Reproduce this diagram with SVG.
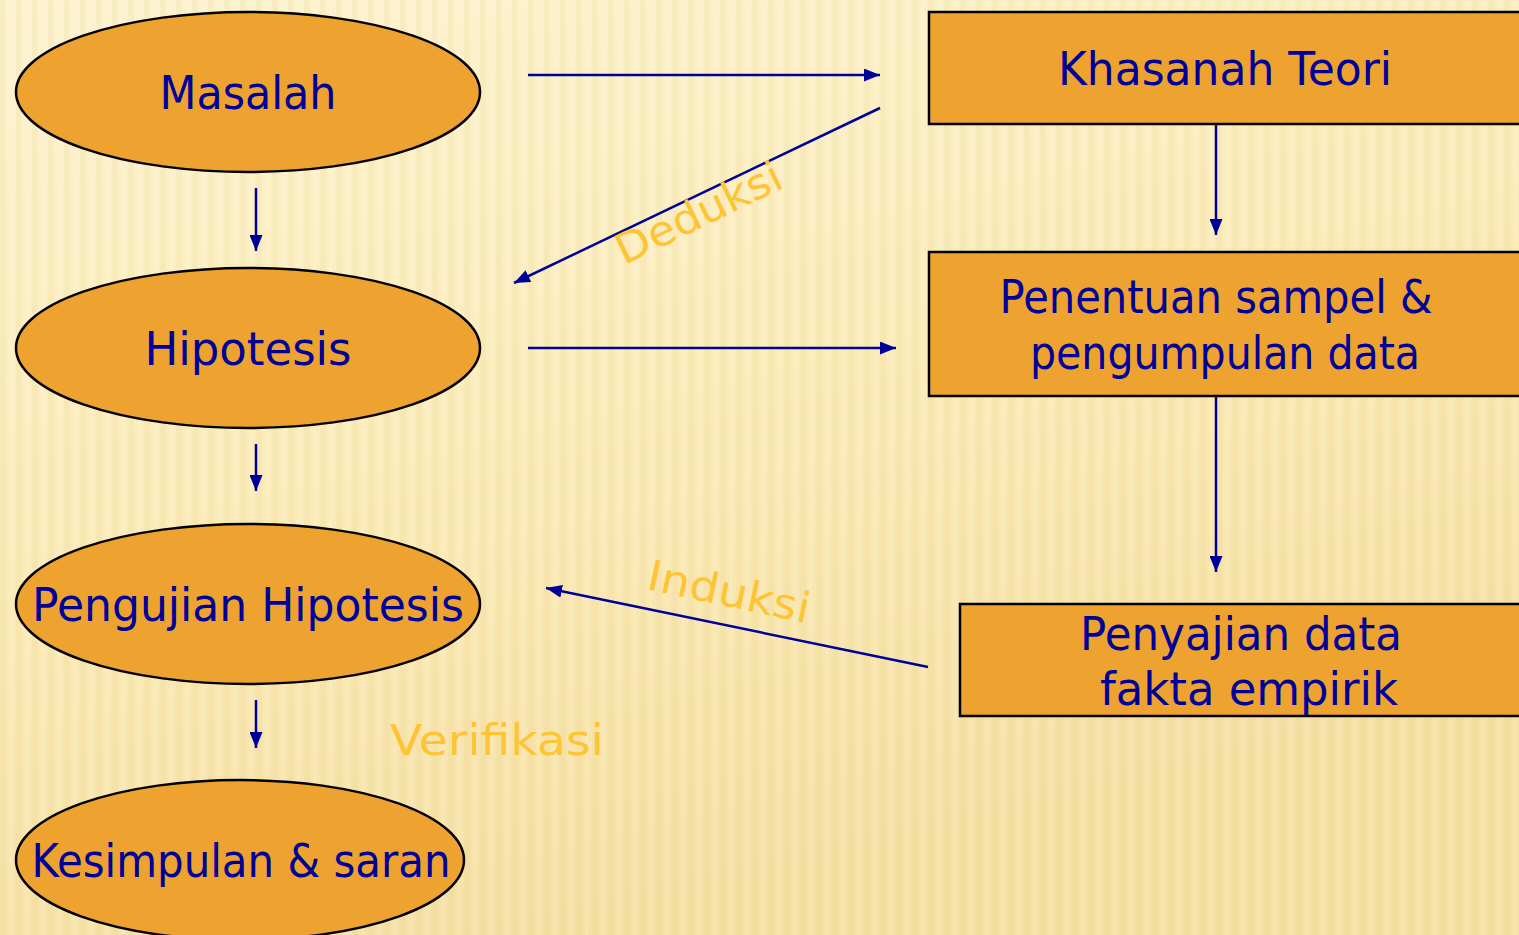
<svg xmlns="http://www.w3.org/2000/svg" width="1519" height="935" viewBox="0 0 1519 935">
<style>
.node{fill:#EEA22F;stroke:#000;stroke-width:2.5}
.lbl{font-family:"DejaVu Sans","Noto Sans",sans-serif;fill:#000099;font-size:46px;text-anchor:middle}
.edge{stroke:#000099;stroke-width:2.5;fill:none;marker-end:url(#ah)}
.tag{font-family:"DejaVu Sans","Noto Sans",sans-serif;fill:#FFC433;font-size:42px;text-anchor:middle}
</style>
<defs>
<marker id="ah" viewBox="0 0 10 10" refX="10" refY="5" markerWidth="16" markerHeight="13" orient="auto" markerUnits="userSpaceOnUse" preserveAspectRatio="none">
<path d="M0,0 L10,5 L0,10 z" fill="#000099"/>
</marker>
<linearGradient id="bg" x1="0" y1="0" x2="0.4" y2="1">
<stop offset="0" stop-color="#FDF3D0"/>
<stop offset="0.55" stop-color="#FBEBB8"/>
<stop offset="1" stop-color="#F5E0A4"/>
</linearGradient>
<pattern id="stripes" width="16" height="935" patternUnits="userSpaceOnUse">
<rect x="0" y="0" width="6" height="935" fill="#D9B96A" opacity="0.10"/>
<rect x="9" y="0" width="4" height="935" fill="#FFFFFF" opacity="0.10"/>
</pattern>
</defs>
<rect width="1519" height="935" fill="url(#bg)"/>
<rect width="1519" height="935" fill="url(#stripes)"/>

<g id="connectors">
<line class="edge" x1="256" y1="188" x2="256" y2="251"/>
<line class="edge" x1="256" y1="444" x2="256" y2="491"/>
<line class="edge" x1="256" y1="700" x2="256" y2="748"/>
<line class="edge" x1="528" y1="75" x2="880" y2="75"/>
<line class="edge" x1="528" y1="348" x2="896" y2="348"/>
<line class="edge" x1="880" y1="108" x2="514" y2="283"/>
<line class="edge" x1="928" y1="667" x2="546" y2="588"/>
<line class="edge" x1="1216" y1="124" x2="1216" y2="235"/>
<line class="edge" x1="1216" y1="396" x2="1216" y2="572"/>
<text class="tag" transform="translate(705,226) rotate(-26)" textLength="180" lengthAdjust="spacingAndGlyphs">Deduksi</text>
<text class="tag" transform="translate(726,606) rotate(12)" textLength="165" lengthAdjust="spacingAndGlyphs">Induksi</text>
<text class="tag" x="497" y="755" textLength="214" lengthAdjust="spacingAndGlyphs">Verifikasi</text>
</g>

<g id="masalah">
<ellipse class="node" cx="248" cy="92" rx="232" ry="80"/>
<text class="lbl" x="248" y="109" textLength="177" lengthAdjust="spacingAndGlyphs">Masalah</text>
</g>
<g id="hipotesis">
<ellipse class="node" cx="248" cy="348" rx="232" ry="80"/>
<text class="lbl" x="248" y="365" textLength="207" lengthAdjust="spacingAndGlyphs">Hipotesis</text>
</g>
<g id="pengujian">
<ellipse class="node" cx="248" cy="604" rx="232" ry="80"/>
<text class="lbl" x="248" y="621" textLength="432" lengthAdjust="spacingAndGlyphs">Pengujian Hipotesis</text>
</g>
<g id="kesimpulan">
<ellipse class="node" cx="240" cy="860" rx="224" ry="80"/>
<text class="lbl" x="241" y="877" textLength="419" lengthAdjust="spacingAndGlyphs">Kesimpulan &amp; saran</text>
</g>
<g id="khasanah">
<rect class="node" x="929" y="12" width="600" height="112"/>
<text class="lbl" x="1225" y="85" textLength="334" lengthAdjust="spacingAndGlyphs">Khasanah Teori</text>
</g>
<g id="penentuan">
<rect class="node" x="929" y="252" width="600" height="144"/>
<text class="lbl" x="1216" y="313" textLength="433" lengthAdjust="spacingAndGlyphs">Penentuan sampel &amp;</text>
<text class="lbl" x="1225" y="369" textLength="390" lengthAdjust="spacingAndGlyphs">pengumpulan data</text>
</g>
<g id="penyajian">
<rect class="node" x="960" y="604" width="570" height="112"/>
<text class="lbl" x="1241" y="650" textLength="322" lengthAdjust="spacingAndGlyphs">Penyajian data</text>
<text class="lbl" x="1249" y="705" textLength="298" lengthAdjust="spacingAndGlyphs">fakta empirik</text>
</g>
</svg>
